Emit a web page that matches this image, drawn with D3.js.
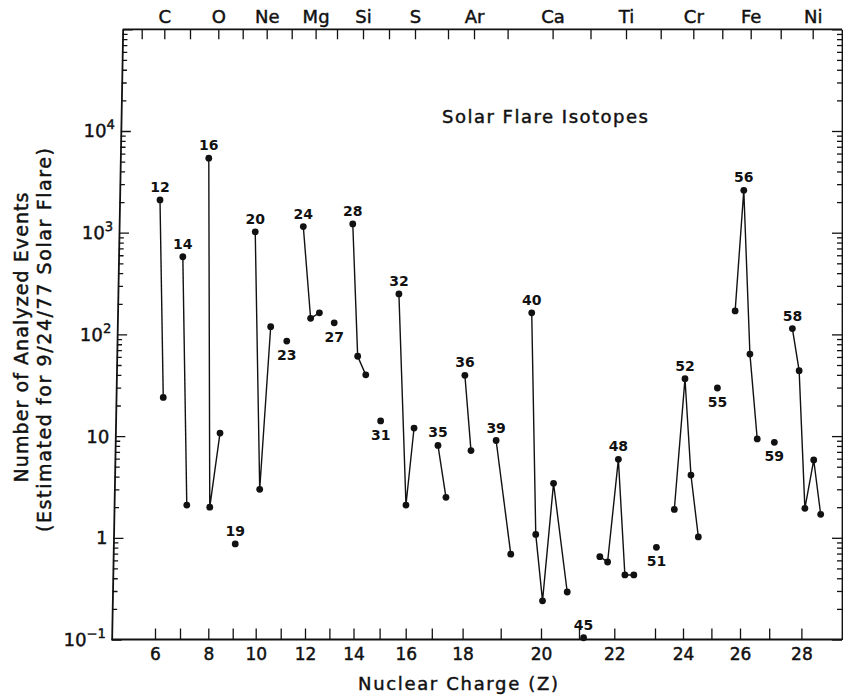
<!DOCTYPE html>
<html><head><meta charset="utf-8">
<script src="https://cdn.jsdelivr.net/npm/d3@7"></script>
<style>
body{margin:0;background:#fff}
svg{display:block}
text{font-family:"DejaVu Sans",sans-serif;fill:#111}
text.heavy{stroke:#111;stroke-width:0.45px}
</style>
</head><body>
<svg id="c" width="843" height="698"></svg>
<script>
// ---------------- DATA ----------------
const isoElement = ["C","C","N","N","O","O","O","F","Ne","Ne","Ne","Na","Mg","Mg","Mg","Al","Si","Si","Si","P","S","S","S","Cl","Cl","Ar","Ar","K","K","Ca","Ca","Ca","Ca","Ca","Sc","Ti","Ti","Ti","Ti","Ti","V","Cr","Cr","Cr","Cr","Mn","Fe","Fe","Fe","Fe","Co","Ni","Ni","Ni","Ni","Ni"];
const isoMass = [12,13,14,15,16,17,18,19,20,21,22,23,24,25,26,27,28,29,30,31,32,33,34,35,37,36,38,39,41,40,42,43,44,48,45,46,47,48,49,50,51,50,52,53,54,55,54,56,57,58,59,58,60,61,62,64];
// position along the nuclear-charge axis (isotopes drawn slightly offset from Z)
const isoZpos = [6.20,6.33,7.10,7.24,8.02,8.06,8.48,9.11,9.98,10.16,10.60,11.25,11.93,12.23,12.59,13.20,13.97,14.16,14.47,15.04,15.74,16.01,16.32,17.20,17.46,18.06,18.22,18.88,19.25,19.77,19.87,20.04,20.33,20.69,21.13,21.59,21.81,22.10,22.26,22.48,23.05,23.69,24.07,24.28,24.54,25.21,25.83,26.13,26.34,26.59,27.16,27.72,27.93,28.11,28.39,28.61];
const isoCount = [2100,24,580,2.1,5400,2.0,10.7,0.87,1020,3.0,119,86,1150,144,163,130,1220,61,40,14.1,250,2.1,12.0,8.1,2.5,39.6,7.2,9.05,0.69,163,1.08,0.24,3.43,0.293,0.104,0.652,0.578,5.91,0.431,0.431,0.806,1.90,36.7,4.14,1.02,29.7,170,2610,64,9.37,8.69,114,44,1.95,5.82,1.70];
// mass-number annotation: "a" = above the point, "b" = below, "" = none
const isoLabel = ["a","","a","","a","","","a","a","","","b","a","","","b","a","","","b","a","","","a","","a","","a","","a","","","","","a","","","a","","","b","","a","","","b","","a","","","b","a","","","",""];

const topElements = ["C","O","Ne","Mg","Si","S","Ar","Ca","Ti","Cr","Fe","Ni"];
const topElementZ = [6,8,10,12,14,16,18,20,22,24,26,28];
const bottomTicks = d3.range(6,29);
const bottomTickLabels = [6,8,10,12,14,16,18,20,22,24,26,28];
const yMajor = [0.1,1,10,100,1000,10000,100000];
const yLabelExp = [-1,0,1,2,3,4];

const title = "Solar Flare Isotopes";
const xTitle = "Nuclear Charge (Z)";
const yTitle1 = "Number of Analyzed Events";
const yTitle2 = "(Estimated for 9/24/77 Solar Flare)";

// ---------------- LAYOUT ----------------
const svg = d3.select("#c");
const ink = "#111";

const y = d3.scaleLog().domain([0.1,1e5]).range([639.5,29.3]);
// hand-drawn axis: tick spacing is not uniform, so use a piecewise linear scale
const xB = d3.scaleLinear().domain(d3.range(5,30))
  .range([130,155,180,208.3,232.7,255.7,280.7,305,329.4,353.5,379.6,405.7,431.8,462.6,500.7,541,579,614.3,655,683,711.4,740,769.2,801.4,833]);
const xT = d3.scaleLinear().domain(d3.range(5,29))
  .range([141.7,164.3,190,218.3,242.7,266.7,291.7,315.6,337,363,389,415,448,474,507.6,552.6,590.5,626,660.7,693.3,722.3,750.7,780.7,812.7]);

const yMinor = [];
for (let e=-1;e<5;e++) for (let k=2;k<10;k++) yMinor.push(k*Math.pow(10,e));

const skewDeg = -1.034, skewTan = Math.tan(skewDeg*Math.PI/180), leftX0 = 123.2;
const leftX = yy => leftX0 + yy*skewTan;
const rightX = 842;

function styleAxis(g){
  g.selectAll("path.domain").attr("stroke",ink).attr("stroke-width",1.8);
  g.selectAll(".tick line").attr("stroke",ink).attr("stroke-width",1.3);
}

// left axis (slightly slanted as in the scan)
const gL = svg.append("g").attr("transform",`translate(${leftX0},0) skewX(${skewDeg})`);
gL.append("g").call(d3.axisLeft(y).tickValues(yMajor).tickSizeInner(-10).tickSizeOuter(0).tickFormat("")).call(styleAxis);
gL.append("g").call(d3.axisLeft(y).tickValues(yMinor).tickSizeInner(-5).tickSizeOuter(0).tickFormat(""))
  .call(g=>g.select(".domain").remove()).call(styleAxis);
const lab = gL.append("g").attr("font-size",18).attr("text-anchor","end");
yLabelExp.forEach(e=>{
  const v = Math.pow(10,e);
  const t = lab.append("text").attr("class","heavy").attr("x",-6).attr("y",y(v)+6.5);
  if (e===0) t.text("1");
  else if (e===1) t.text("10");
  else {
    t.append("tspan").text("10");
    t.append("tspan").attr("dy",-8).attr("font-size",13).text(e<0?"\u2212"+(-e):String(e));
  }
});

// right axis
const gR = svg.append("g").attr("transform",`translate(${rightX},0)`);
gR.append("g").call(d3.axisRight(y).tickValues(yMajor).tickSizeInner(-10).tickSizeOuter(0).tickFormat("")).call(styleAxis);
gR.append("g").call(d3.axisRight(y).tickValues(yMinor).tickSizeInner(-5).tickSizeOuter(0).tickFormat(""))
  .call(g=>g.select(".domain").remove()).call(styleAxis);

// bottom axis
const gB = svg.append("g").attr("transform",`translate(0,${y(0.1)})`)
  .call(d3.axisBottom(xB).tickValues(bottomTicks).tickSizeInner(-11).tickSizeOuter(0).tickPadding(8.4)
    .tickFormat(d=>bottomTickLabels.includes(d)?d:""))
  .call(g=>g.select(".domain").remove()).call(styleAxis);
gB.selectAll("text").attr("font-size",17).attr("fill",ink).attr("font-family","DejaVu Sans").attr("class","heavy");

// top axis
const gT = svg.append("g").attr("transform",`translate(0,${y(1e5)})`)
  .call(d3.axisTop(xT).tickValues(d3.range(5,29)).tickSizeInner(-10).tickSizeOuter(0).tickPadding(6.6)
    .tickFormat(d=>{const i=topElementZ.indexOf(d);return i>=0?topElements[i]:"";}))
  .call(g=>g.select(".domain").remove()).call(styleAxis);
gT.selectAll("text").attr("font-size",18).attr("fill",ink).attr("font-family","DejaVu Sans").attr("class","heavy");

// frame lines top & bottom
svg.append("path")
  .attr("d",`M${leftX(y(1e5))},${y(1e5)}H${rightX}M${leftX(y(0.1))},${y(0.1)}H${rightX}`)
  .attr("stroke",ink).attr("stroke-width",1.8).attr("fill","none");

// ---------------- MARKS ----------------
const iso = isoMass.map((m,i)=>({el:isoElement[i],mass:m,z:isoZpos[i],n:isoCount[i],lab:isoLabel[i]}));
const line = d3.line().x(d=>xB(d.z)).y(d=>y(d.n));
for (const [el,arr] of d3.group(iso,d=>d.el)) {
  if (arr.length>1) svg.append("path").attr("d",line(arr)).attr("fill","none").attr("stroke",ink).attr("stroke-width",1.4);
}
svg.append("g").selectAll("circle").data(iso).join("circle")
  .attr("cx",d=>xB(d.z)).attr("cy",d=>y(d.n)).attr("r",3.4).attr("fill",ink);
svg.append("g").attr("font-size",14).attr("font-weight","bold").attr("text-anchor","middle")
  .selectAll("text").data(iso.filter(d=>d.lab)).join("text")
  .attr("x",d=>xB(d.z)).attr("y",d=>d.lab==="a"?y(d.n)-8:y(d.n)+19).text(d=>d.mass);

// ---------------- TEXT ----------------
svg.append("text").attr("class","heavy").attr("x",545).attr("y",123).attr("text-anchor","middle").attr("font-size",18)
  .attr("textLength",206).attr("lengthAdjust","spacing").text(title);
svg.append("text").attr("class","heavy").attr("x",458).attr("y",690).attr("text-anchor","middle").attr("font-size",18)
  .attr("textLength",200).attr("lengthAdjust","spacing").text(xTitle);
svg.append("text").attr("class","heavy").attr("transform","translate(28,337.5) rotate(-90)").attr("text-anchor","middle").attr("font-size",19)
  .attr("textLength",290).attr("lengthAdjust","spacing").text(yTitle1);
svg.append("text").attr("class","heavy").attr("transform","translate(51,340) rotate(-90)").attr("text-anchor","middle").attr("font-size",19)
  .attr("textLength",384).attr("lengthAdjust","spacing").text(yTitle2);
</script>
</body></html>
